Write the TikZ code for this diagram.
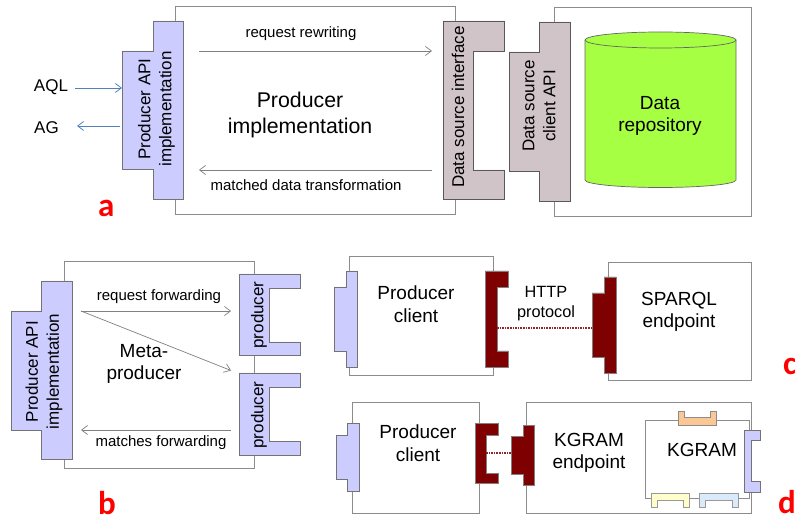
\documentclass[tikz,border=0pt]{standalone}
\usepackage{fontspec}
\usetikzlibrary{arrows.meta}
\setmainfont{Liberation Sans}
\newfontfamily\lettersfont{Carlito}
\definecolor{lavend}{HTML}{CCCCFF}
\definecolor{mauve}{HTML}{D1C4C8}
\definecolor{limeg}{HTML}{A6FF42}
\definecolor{darkred}{HTML}{7F0000}
\definecolor{peach}{HTML}{FAC795}
\definecolor{paleyel}{HTML}{FFFFCC}
\definecolor{paleblu}{HTML}{D9EAFA}
\definecolor{arrowblue}{HTML}{4F81BD}
\begin{document}
\begin{tikzpicture}[x=1pt,y=1pt]
        \tikzstyle{every node}+=[inner sep=0pt,align=center,text=black]
        \tikzstyle{frame}=[draw=black!45,line width=0.9pt,fill=white]
        \tikzstyle{apibox}=[draw=black!55,line width=0.8pt,fill=lavend]
        \tikzstyle{srcbox}=[draw=black!65,line width=0.8pt,fill=mauve]
        \tikzstyle{httpbox}=[draw=black!50,line width=0.6pt,fill=darkred]
        \tikzstyle{flow}=[black!50,line width=0.7pt,-{Straight Barb[length=6pt,width=9pt]}]
        \tikzstyle{query}=[arrowblue,line width=0.8pt,-{Straight Barb[length=6pt,width=9pt]}]
        \tikzstyle{wire}=[darkred!85,line width=2.5pt,dash pattern=on 1.6pt off 1pt]
        \tikzstyle{letter}=[text=red,font=\lettersfont\bfseries\fontsize{33}{33}\selectfont,anchor=base west]
        \tikzstyle{small}=[font=\fontsize{15}{18}\selectfont]
        \tikzstyle{medium}=[font=\fontsize{17}{21}\selectfont]
        \tikzstyle{large}=[font=\fontsize{19}{22.5}\selectfont]
        \tikzstyle{huge}=[font=\fontsize{21.3}{26}\selectfont]
        \useasboundingbox (0,0) rectangle (795,-518);
        % a
        \draw [frame] (175,-6) rectangle (455,-214);
        \draw [frame] (554,-7) rectangle (751,-216);
        \draw [apibox] (153,-21) -- (183,-21) -- (183,-199) -- (153,-199) -- (153,-169) -- (122,-169) -- (122,-51) -- (153,-51) -- cycle;
        \draw [srcbox] (443,-21) -- (504,-21) -- (504,-51) -- (473,-51) -- (473,-170) -- (504,-170) -- (504,-199) -- (443,-199) -- cycle;
        \draw [srcbox] (539,-22) -- (570,-22) -- (570,-201) -- (539,-201) -- (539,-171) -- (509,-171) -- (509,-52) -- (539,-52) -- cycle;
        \draw [draw=black!60,line width=0.7pt,fill=limeg] (585,-40) -- (585,-180) arc [start angle=180,end angle=360,x radius=75.5,y radius=7.5] -- (736,-40);
        \draw [draw=black!60,line width=0.7pt,fill=limeg] (660.5,-40) ellipse [x radius=75.5,y radius=8];
        \draw (51,-87) node [medium] (aql) {AQL};
        \draw (46.5,-128) node [medium] (ag) {AG};
        \coordinate (apiin) at (122,-88);
        \coordinate (apiout) at (120,-126);
        \coordinate (agend) at (77,-126);
        \coordinate (aqlstart) at (75,-88);
        \draw [query] (aqlstart) -- (apiin);
        \draw [query] (apiout) -- (agend);
        \draw (156.5,-109) node [medium,rotate=90] (apia) {Producer API\\implementation};
        \draw (458,-107) node [medium,rotate=90] (dsi) {Data source interface};
        \draw (539,-106) node [medium,rotate=90] (dsc) {Data source\\client API};
        \draw (660,-116) node [large] (repo) {Data\\repository};
        \draw (300,-115) node [huge] (impl) {Producer\\implementation};
        \draw (301,-34) node [small] (rew) {request rewriting};
        \draw (306,-185) node [small] (trans) {matched data transformation};
        \coordinate (rewfrom) at (199,-51);
        \coordinate (rewto) at (432,-51);
        \coordinate (transfrom) at (432,-170);
        \coordinate (transto) at (199,-170);
        \draw [flow] (rewfrom) -- (rewto);
        \draw [flow] (transfrom) -- (transto);
        \draw (98,-217) node [letter] (la) {a};
        % b
        \draw [frame] (64,-261) rectangle (254,-468);
        \draw [apibox] (41.5,-281) -- (72,-281) -- (72,-459) -- (41.5,-459) -- (41.5,-430) -- (11,-430) -- (11,-311) -- (41.5,-311) -- cycle;
        \draw [apibox] (239,-274) -- (300,-274) -- (300,-288) -- (269,-288) -- (269,-342) -- (300,-342) -- (300,-355) -- (239,-355) -- cycle;
        \draw [apibox] (239,-373) -- (300,-373) -- (300,-387) -- (269,-387) -- (269,-441) -- (300,-441) -- (300,-455) -- (239,-455) -- cycle;
        \draw (44,-371.5) node [medium,rotate=90] (apib) {Producer API\\implementation};
        \draw (259,-315) node [medium,rotate=90] (proda) {producer};
        \draw (259,-415) node [medium,rotate=90] (prodb) {producer};
        \draw (144,-364) node [large] (meta) {Meta-\\producer};
        \draw (159,-297) node [small] (reqf) {request forwarding};
        \draw (161,-443) node [small] (matf) {matches forwarding};
        \coordinate (fwd) at (81,-311);
        \coordinate (prodain) at (231,-311);
        \coordinate (prodbin) at (231,-370.5);
        \coordinate (matfrom) at (231,-430);
        \coordinate (matto) at (81,-430);
        \draw [flow] (fwd) -- (prodain);
        \draw [flow] (fwd) -- (prodbin);
        \draw [flow] (matfrom) -- (matto);
        \draw (98,-514) node [letter] (lb) {b};
        % c
        \draw [frame] (349,-256) rectangle (493,-375);
        \draw [frame] (608,-262) rectangle (751,-380);
        \draw [apibox] (346,-271) -- (357,-271) -- (357,-367) -- (346,-367) -- (346,-351) -- (334,-351) -- (334,-287) -- (346,-287) -- cycle;
        \draw [httpbox] (485,-271) -- (508,-271) -- (508,-287) -- (497,-287) -- (497,-351) -- (508,-351) -- (508,-367) -- (485,-367) -- cycle;
        \draw [httpbox] (604,-277) -- (616,-277) -- (616,-373) -- (604,-373) -- (604,-357) -- (592,-357) -- (592,-293) -- (604,-293) -- cycle;
        \coordinate (httpa) at (497,-328);
        \coordinate (httpb) at (592,-328);
        \draw [wire] (httpa) -- (httpb);
        \draw (416,-304) node [large] (pca) {Producer\\client};
        \draw (546,-304) node [font=\fontsize{16.3}{20}\selectfont] (http) {HTTP\\protocol};
        \draw (679,-312) node [large] (sparql) {SPARQL\\endpoint};
        \draw (783,-375) node [letter] (lc) {c};
        % d
        \draw [frame] (352,-402) rectangle (479,-513);
        \draw [frame] (526,-402) rectangle (751,-513);
        \draw [frame] (645,-420) rectangle (749,-498);
        \draw [apibox] (347,-423) -- (359,-423) -- (359,-491) -- (347,-491) -- (347,-479) -- (336,-479) -- (336,-435) -- (347,-435) -- cycle;
        \draw [httpbox] (475,-423) -- (498,-423) -- (498,-435) -- (486,-435) -- (486,-473) -- (498,-473) -- (498,-483) -- (475,-483) -- cycle;
        \draw [httpbox] (523,-425) -- (534,-425) -- (534,-485) -- (523,-485) -- (523,-474) -- (511,-474) -- (511,-436) -- (523,-436) -- cycle;
        \draw [apibox] (744,-430) -- (760,-430) -- (760,-440) -- (751,-440) -- (751,-481) -- (760,-481) -- (760,-492) -- (744,-492) -- cycle;
        \draw [draw=black!45,line width=0.7pt,fill=peach] (678,-411) -- (684,-411) -- (684,-417) -- (710,-417) -- (710,-411) -- (716,-411) -- (716,-425) -- (678,-425) -- cycle;
        \draw [draw=black!40,line width=0.7pt,fill=paleyel] (651,-493) -- (689,-493) -- (689,-507) -- (683,-507) -- (683,-500) -- (657,-500) -- (657,-507) -- (651,-507) -- cycle;
        \draw [draw=black!40,line width=0.7pt,fill=paleblu] (699,-493) -- (738,-493) -- (738,-507) -- (732,-507) -- (732,-500) -- (705,-500) -- (705,-507) -- (699,-507) -- cycle;
        \coordinate (kwa) at (486,-453);
        \coordinate (kwb) at (511,-453);
        \draw [wire] (kwa) -- (kwb);
        \draw (418,-443) node [large] (pcb) {Producer\\client};
        \draw (589,-453) node [large] (kep) {KGRAM\\endpoint};
        \draw (702,-449.5) node [large] (kgram) {KGRAM};
        \draw (778,-513) node [letter] (ld) {d};
\end{tikzpicture}
\end{document}
